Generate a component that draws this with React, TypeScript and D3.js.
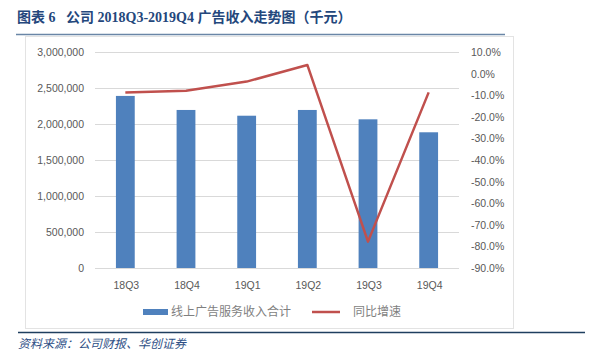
import { useEffect, useRef } from "react"
import * as d3 from "d3"

const quarters = ["18Q3", "18Q4", "19Q1", "19Q2", "19Q3", "19Q4"]
const adRevenue = [2390000, 2195000, 2115000, 2195000, 2065000, 1885000]
const yoyGrowth = [-8.8, -7.9, -3.7, 4.0, -77.8, -8.7]
const leftTicks = [0, 500000, 1000000, 1500000, 2000000, 2500000, 3000000]
const rightTicks = [10, 0, -10, -20, -30, -40, -50, -60, -70, -80, -90]
const legendLabels = ["线上广告服务收入合计", "同比增速"]

const title = "图表 6\u00a0\u00a0\u00a0公司 2018Q3-2019Q4 广告收入走势图（千元）"
const source = "资料来源：公司财报、华创证券"

const App = () => {
  const svgRef = useRef<SVGSVGElement>(null)

  useEffect(() => {
    const svg = d3.select(svgRef.current)
    svg.selectAll("*").remove()

    const width = 606
    const height = 364
    const plot = { left: 95, right: 459, top: 52, bottom: 268 }
    const axisFont = "'Liberation Sans', Arial, sans-serif"
    const cjkFont = "'Noto Sans CJK SC', sans-serif"

    svg.attr("width", width).attr("height", height)
    svg.append("rect").attr("width", width).attr("height", height).attr("fill", "#fff")

    // header
    svg.append("text")
      .attr("x", 17).attr("y", 22)
      .attr("font-family", "'Liberation Serif', 'Noto Sans CJK SC', serif")
      .attr("font-weight", "bold")
      .attr("font-size", 14)
      .attr("fill", "#24477c")
      .text(title)
    svg.append("line")
      .attr("x1", 16).attr("x2", 505).attr("y1", 34.5).attr("y2", 34.5)
      .attr("stroke", "#6a86a6").attr("stroke-width", 1.5)

    // chart frame
    svg.append("rect")
      .attr("x", 25.5).attr("y", 36.5).attr("width", 488).attr("height", 292)
      .attr("fill", "#fff").attr("stroke", "#e3e3e3")

    const x = d3.scaleBand().domain(quarters).range([plot.left, plot.right]).paddingInner(0.69).paddingOuter(0.345)
    const y = d3.scaleLinear().domain([0, 3000000]).range([plot.bottom, plot.top])
    const y2 = d3.scaleLinear().domain([-90, 10]).range([plot.bottom, plot.top])
    const band = d3.scaleBand().domain(quarters).range([plot.left, plot.right])

    // gridlines
    svg.append("g").selectAll("line")
      .data(leftTicks)
      .enter()
      .append("line")
      .attr("x1", plot.left).attr("x2", plot.right)
      .attr("y1", (d) => Math.round(y(d)) + 0.5).attr("y2", (d) => Math.round(y(d)) + 0.5)
      .attr("stroke", "#d9d9d9").attr("stroke-width", 1)

    // left axis labels
    svg.append("g").selectAll("text")
      .data(leftTicks)
      .enter()
      .append("text")
      .attr("x", 84).attr("y", (d) => y(d) + 4)
      .attr("text-anchor", "end")
      .attr("font-family", axisFont).attr("font-size", 10.5).attr("fill", "#595959")
      .text((d) => d3.format(",")(d))

    // right axis labels
    svg.append("g").selectAll("text")
      .data(rightTicks)
      .enter()
      .append("text")
      .attr("x", 471).attr("y", (d) => y2(d) + 4)
      .attr("font-family", axisFont).attr("font-size", 10.5).attr("fill", "#595959")
      .text((d) => d.toFixed(1) + "%")

    // category labels
    svg.append("g").selectAll("text")
      .data(quarters)
      .enter()
      .append("text")
      .attr("x", (d) => (band(d) || 0) + band.bandwidth() / 2 + 1)
      .attr("y", 289)
      .attr("text-anchor", "middle")
      .attr("font-family", axisFont).attr("font-size", 10.5).attr("fill", "#595959")
      .text((d) => d)

    // bars
    svg.append("g").selectAll("rect")
      .data(adRevenue)
      .enter()
      .append("rect")
      .attr("x", (_, i) => x(quarters[i]) || 0)
      .attr("y", (d) => y(d))
      .attr("width", x.bandwidth())
      .attr("height", (d) => plot.bottom - y(d))
      .attr("fill", "#4f81bd")

    // growth line
    const line = d3.line<number>()
      .x((_, i) => (band(quarters[i]) || 0) + band.bandwidth() / 2)
      .y((d) => y2(d))
    svg.append("path")
      .datum(yoyGrowth)
      .attr("d", line)
      .attr("fill", "none")
      .attr("stroke", "#c0504d")
      .attr("stroke-width", 2.5)
      .attr("stroke-linejoin", "round")

    // legend
    const lg = svg.append("g")
    lg.append("rect").attr("x", 143).attr("y", 309).attr("width", 25).attr("height", 6).attr("fill", "#4f81bd")
    lg.append("text").attr("x", 171).attr("y", 316)
      .attr("font-family", cjkFont).attr("font-size", 12).attr("fill", "#7f7f7f")
      .text(legendLabels[0])
    lg.append("line").attr("x1", 312).attr("x2", 340).attr("y1", 312).attr("y2", 312)
      .attr("stroke", "#c0504d").attr("stroke-width", 2.5)
    lg.append("text").attr("x", 353).attr("y", 316)
      .attr("font-family", cjkFont).attr("font-size", 12).attr("fill", "#7f7f7f")
      .text(legendLabels[1])

    // footer
    svg.append("line")
      .attr("x1", 18).attr("x2", 585).attr("y1", 332.5).attr("y2", 332.5)
      .attr("stroke", "#1f3f5f").attr("stroke-width", 1.5)
    svg.append("text")
      .attr("x", 18).attr("y", 348)
      .attr("font-family", cjkFont).attr("font-style", "italic")
      .attr("font-size", 12).attr("fill", "#2e4f86")
      .text(source)
  }, [])

  return <svg ref={svgRef} style={{ position: "absolute", left: 0, top: 0 }}></svg>
}

export default App
